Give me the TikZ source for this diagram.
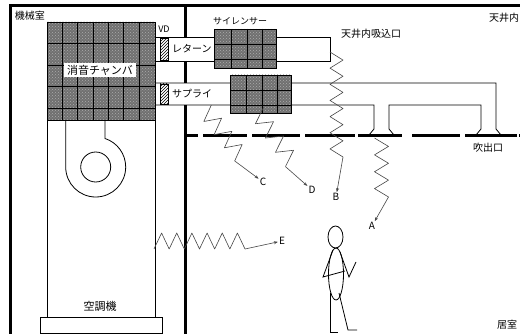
\documentclass[tikz,border=0pt]{standalone}
\usepackage{fontspec}
\newfontfamily\jp{Noto Sans CJK JP}
\usetikzlibrary{calc,patterns,arrows.meta}

\definecolor{absorbgray}{RGB}{112,112,112}
\definecolor{absorbdot}{RGB}{172,172,172}
\definecolor{noisegray}{RGB}{70,70,70}

\tikzset{
  wall/.style={line width=3pt},
  ductline/.style={line width=0.8pt},
  gridline/.style={line width=0.8pt},
  absorber/.style={fill=absorbgray},
  absorbdots/.style={pattern=crosshatch dots, pattern color=absorbdot},
  damper/.style={draw, line width=0.6pt, preaction={fill=white}, pattern=north east lines},
  txt/.style={font=\jp\fontsize{10}{10}\selectfont, inner sep=1pt},
  smalltxt/.style={font=\jp\fontsize{9}{9}\selectfont, inner sep=1pt},
  noise/.style={draw=noisegray, line width=0.6pt, line join=round},
  noisearrow/.style={draw=noisegray, line width=0.6pt, -{Stealth[length=4pt,width=3pt]}},
  figline/.style={line width=0.8pt}
}

% zigzag noise path: start, end, number of half teeth, amplitude,
% side of the first corner, name of the last corner
\newcommand\noisepath[6]{%
  \draw[noise] ($(#1)!#4!#5:(#2)$)
    \foreach \k [evaluate=\k as \side using {(mod(\k,2)==1 ? 1 : -1)*(#5)}] in {1,...,#3}
      { -- ($(#1)!{\k/#3}!(#2)!#4!\side:(#1)$) }
    coordinate (#6);
}

% absorber block: grey fill with a dotted texture
\newcommand\absorberblock[4]{% x0, y0, x1, y1
  \path[absorber] (#1,#2) rectangle (#3,#4);
  \path[absorbdots] (#1,#2) rectangle (#3,#4);
}

\begin{document}
\begin{tikzpicture}[x=1pt,y=-1pt]
  \fill[white] (0,0) rectangle (520,334);
  \useasboundingbox (0,0) rectangle (520,334);

  % ---- ducts ----
  % return duct
  \draw[ductline] (155,37) -- (330,37) -- (330,61) -- (155,61);
  % supply duct with two diffusers
  \draw[ductline] (155,83) -- (496,83) -- (496,129) -- (501,135);
  \draw[ductline] (155,105) -- (374,105) -- (374,129) -- (369,135);
  \draw[ductline] (394,135) -- (389,129) -- (389,105) -- (481,105) -- (481,129) -- (476,135);

  % volume dampers
  \draw[damper] (160,38) rectangle (168,60);
  \draw[damper] (160,84) rectangle (168,104);

  % ---- sound chamber ----
  \absorberblock{47}{22}{155}{120}
  \foreach \x in {62,77,93,108,123,139} \draw[gridline] (\x,22) -- (\x,120);
  \foreach \y in {43.5,65,86.5,108} \draw[gridline] (47,\y) -- (155,\y);
  \draw[gridline] (47,22) rectangle (155,120);
  \node[txt, font=\jp\fontsize{11}{11}\selectfont, fill=white, inner xsep=3pt, inner ysep=2pt] (chamber) at (100,70) {消音チャンバ};

  % ---- silencers ----
  \absorberblock{214}{29}{276}{68}
  \foreach \x in {231,247,262} \draw[gridline] (\x,29) -- (\x,68);
  \foreach \y in {44,59} \draw[gridline] (214,\y) -- (276,\y);
  \draw[gridline] (214,29) rectangle (276,68);

  \absorberblock{230}{75}{291}{113}
  \foreach \x in {246,262,277} \draw[gridline] (\x,75) -- (\x,113);
  \foreach \y in {90,105} \draw[gridline] (230,\y) -- (291,\y);
  \draw[gridline] (230,75) rectangle (291,113);

  % ---- air handling unit ----
  \draw[ductline] (47,120) rectangle (155,317);
  \draw[ductline] (40,317) rectangle (162,333.5);
  % fan scroll (y axis points down, so angle 90 is the bottom)
  \draw[ductline] (65.7,121) -- (65.7,167) arc[start angle=180, end angle=-72, radius=30] -- (105,121);
  \draw[ductline] (95.7,167) circle[radius=15];

  % ---- building ----
  \draw[wall, line join=miter] (10,334) -- (10,6) -- (520,6);
  \draw[wall] (185.5,6) -- (185.5,37);
  \draw[wall] (185.5,61) -- (185.5,83);
  \draw[wall] (185.5,105) -- (185.5,334);
  % ceiling
  \foreach \a/\b in {187/198,203/247,252/300,305/355,358/402,412/460,465/517,519/521}
    \draw[wall] (\a,136) -- (\b,136);

  % ---- texts ----
  \node[txt] (machineroom) at (30,16) {機械室};
  \node[txt] (ceilingspace) at (504,18) {天井内};
  \node[txt] (room) at (507,325) {居室};
  \node[smalltxt] (vd) at (164,29.5) {VD};
  \node[smalltxt] (silencer) at (240,21) {サイレンサー};
  \node[txt, anchor=west] (returnlbl) at (171,49) {レターン};
  \node[txt, anchor=west] (supplylbl) at (171,94) {サプライ};
  \node[txt] (intake) at (371,34) {天井内吸込口};
  \node[txt] (outlet) at (488,148) {吹出口};
  \node[txt, font=\jp\fontsize{11}{11}\selectfont] (ahu) at (100,306) {空調機};

  \node[txt] (lblA) at (372,226) {A};
  \node[txt] (lblB) at (336,197) {B};
  \node[txt] (lblC) at (263,182) {C};
  \node[txt] (lblD) at (312,190) {D};
  \node[txt] (lblE) at (282,241) {E};

  % ---- noise paths ----
  \coordinate (aTop) at (381.5,138);  \coordinate (aBot) at (381.5,197);
  \coordinate (bTop) at (336.5,52);   \coordinate (bBot) at (336.5,157);
  \coordinate (cTop) at (205,110);    \coordinate (cBot) at (241,156);
  \coordinate (dTop) at (257,112);    \coordinate (dBot) at (292,162);
  \coordinate (eLeft) at (154,241);   \coordinate (eRight) at (245,241);

  \noisepath{aTop}{aBot}{7}{7pt}{-90}{aEnd}
  \noisepath{bTop}{bBot}{13}{6.5pt}{-90}{bEnd}
  \noisepath{cTop}{cBot}{7}{8pt}{90}{cEnd}
  \noisepath{dTop}{dBot}{7}{8pt}{90}{dEnd}
  \noisepath{eLeft}{eRight}{12}{8pt}{-90}{eEnd}

  \draw[noisearrow] (aEnd) -- (lblA);
  \draw[noisearrow] (bEnd) -- (lblB);
  \draw[noisearrow] (cEnd) -- (lblC);
  \draw[noisearrow] (dEnd) -- (lblD);
  \draw[noisearrow] (eEnd) -- (lblE);

  % ---- person ----
  \draw[figline] (335.5,237) ellipse[x radius=7.5, y radius=11];
  \draw[figline] (336,274) ellipse[x radius=7.5, y radius=26];
  \draw[figline] (333,250) -- (323,277) -- (345,271);
  \draw[figline] (340,252) -- (349,277) -- (356,262);
  \draw[figline] (330,293) -- (330,332) -- (338,332);
  \draw[figline] (339,293) -- (348,330) -- (357,330);
\end{tikzpicture}
\end{document}
